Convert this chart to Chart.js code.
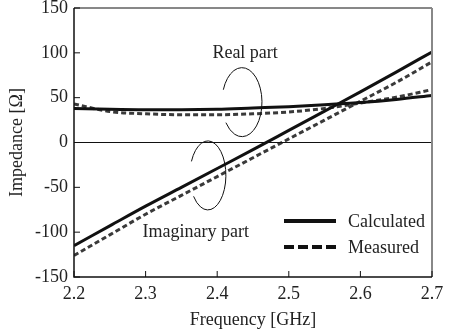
<!DOCTYPE html>
<html>
<head>
<meta charset="utf-8">
<script src="https://cdn.jsdelivr.net/npm/chart.js@4/dist/chart.umd.min.js"></script>
<style>
  html, body { margin: 0; padding: 0; background: #fff; }
  #wrap { width: 449px; height: 333px; }
</style>
</head>
<body>
<div id="wrap"><canvas id="impChart"></canvas></div>
<script>
// frequencies in GHz
const freqs = [2.2, 2.25, 2.3, 2.35, 2.4, 2.45, 2.5, 2.55, 2.6, 2.65, 2.7];
const calcReal = [38, 37, 36.5, 36.5, 37, 38.5, 40, 42, 44.5, 48, 52.5];
const measReal = [43, 34.5, 32, 31, 31, 32, 34, 38, 44, 50.5, 59];
const calcImag = [-115, -93, -71, -50, -29, -8, 13.5, 35, 56.5, 78.5, 101];
const measImag = [-126, -103, -80, -59, -38, -17, 4, 25, 46, 67, 90];
const yTicks = [-150, -100, -50, 0, 50, 100, 150];
const legendLabels = ['Calculated', 'Measured'];

const serif = '"Liberation Serif", "Times New Roman", serif';

function pts(vals) {
    return freqs.map((f, i) => ({ x: f, y: vals[i] }));
}

const solid = { borderColor: '#111', borderWidth: 3, pointRadius: 0, cubicInterpolationMode: 'monotone', fill: false };
const dashed = { borderColor: '#3a3a3a', borderWidth: 3, borderDash: [5, 3], pointRadius: 0, cubicInterpolationMode: 'monotone', fill: false };

// frame, inward ticks, loops, labels and legend
const decor = {
    id: 'decor',
    afterDraw(chart) {
        const ctx = chart.ctx;
        const a = chart.chartArea;
        const xs = chart.scales.x, ys = chart.scales.y;
        ctx.save();
        // zero line
        ctx.strokeStyle = '#111';
        ctx.lineWidth = 1;
        const y0 = ys.getPixelForValue(0);
        ctx.beginPath(); ctx.moveTo(a.left, y0); ctx.lineTo(a.right, y0); ctx.stroke();
        // frame
        ctx.beginPath(); ctx.moveTo(a.left, a.top); ctx.lineTo(a.right, a.top); ctx.stroke();
        ctx.strokeStyle = '#888'; ctx.lineWidth = 2;
        ctx.beginPath(); ctx.moveTo(a.right, a.top); ctx.lineTo(a.right, a.bottom); ctx.stroke();
        ctx.strokeStyle = '#111'; ctx.lineWidth = 1.5;
        ctx.beginPath(); ctx.moveTo(a.left, a.top); ctx.lineTo(a.left, a.bottom); ctx.lineTo(a.right, a.bottom); ctx.stroke();
        // inward ticks
        ctx.lineWidth = 1;
        ys.ticks.forEach(t => {
            const p = ys.getPixelForValue(t.value);
            ctx.beginPath(); ctx.moveTo(a.left, p); ctx.lineTo(a.left + 6, p); ctx.stroke();
        });
        xs.ticks.forEach(t => {
            const p = xs.getPixelForValue(t.value);
            ctx.beginPath(); ctx.moveTo(p, a.bottom); ctx.lineTo(p, a.bottom - 6); ctx.stroke();
        });
        // loops
        ctx.lineWidth = 1;
        ctx.beginPath();
        ctx.ellipse(xs.getPixelForValue(2.4346), ys.getPixelForValue(45), 20, 34.5, 0, 3.51, 2.505);
        ctx.stroke();
        ctx.beginPath();
        ctx.ellipse(xs.getPixelForValue(2.387), ys.getPixelForValue(-36.7), 18, 34.5, 0, 3.56, 2.49);
        ctx.stroke();
        // labels
        ctx.fillStyle = '#222';
        ctx.font = '18px ' + serif;
        ctx.textAlign = 'center';
        ctx.textBaseline = 'middle';
        ctx.fillText('Real part', xs.getPixelForValue(2.439), ys.getPixelForValue(100));
        ctx.fillText('Imaginary part', xs.getPixelForValue(2.37), ys.getPixelForValue(-100));
        // legend
        const lx1 = a.right - 148, lx2 = a.right - 96, tx = a.right - 84;
        const ly1 = a.bottom - 56, ly2 = a.bottom - 30;
        ctx.lineWidth = 4;
        ctx.strokeStyle = '#111';
        ctx.beginPath(); ctx.moveTo(lx1, ly1); ctx.lineTo(lx2, ly1); ctx.stroke();
        ctx.setLineDash([10, 4]);
        ctx.beginPath(); ctx.moveTo(lx1, ly2); ctx.lineTo(lx2, ly2); ctx.stroke();
        ctx.setLineDash([]);
        ctx.textAlign = 'left';
        ctx.fillText(legendLabels[0], tx, ly1 + 1);
        ctx.fillText(legendLabels[1], tx, ly2 + 1);
        ctx.restore();
    }
};

new Chart(document.getElementById('impChart'), {
    type: 'line',
    data: {
        datasets: [
            Object.assign({ label: 'Calculated real', data: pts(calcReal) }, solid),
            Object.assign({ label: 'Calculated imaginary', data: pts(calcImag) }, solid),
            Object.assign({ label: 'Measured real', data: pts(measReal) }, dashed),
            Object.assign({ label: 'Measured imaginary', data: pts(measImag) }, dashed)
        ]
    },
    options: {
        responsive: true,
        maintainAspectRatio: false,
        animation: false,
        layout: { padding: { top: 8, right: 17, left: 0, bottom: 0 } },
        plugins: { legend: { display: false }, tooltip: { enabled: false } },
        scales: {
            x: {
                type: 'linear',
                min: 2.2, max: 2.7,
                grid: { display: false, drawTicks: false },
                border: { display: false },
                afterBuildTicks: s => { s.ticks = freqs.filter((f, i) => i % 2 === 0).map(v => ({ value: v })); },
                afterFit: s => { s.height = 56; s.paddingLeft = 0; s.paddingRight = 0; },
                ticks: {
                    padding: 6,
                    color: '#222',
                    font: { family: serif, size: 18 },
                    callback: v => v.toFixed(1)
                },
                title: { display: true, text: 'Frequency [GHz]', color: '#222', font: { family: serif, size: 18 }, padding: { top: 0, bottom: 2 } }
            },
            y: {
                min: -150, max: 150,
                grid: { display: false, drawTicks: false },
                border: { display: false },
                afterBuildTicks: s => { s.ticks = yTicks.map(v => ({ value: v })); },
                afterFit: s => { s.width = 74; s.paddingTop = 0; s.paddingBottom = 0; },
                ticks: {
                    padding: 6,
                    color: '#222',
                    font: { family: serif, size: 18 }
                },
                title: { display: true, text: 'Impedance [Ω]', color: '#222', font: { family: serif, size: 18 }, padding: { top: 6, bottom: 0 } }
            }
        }
    },
    plugins: [decor]
});
</script>
</body>
</html>
